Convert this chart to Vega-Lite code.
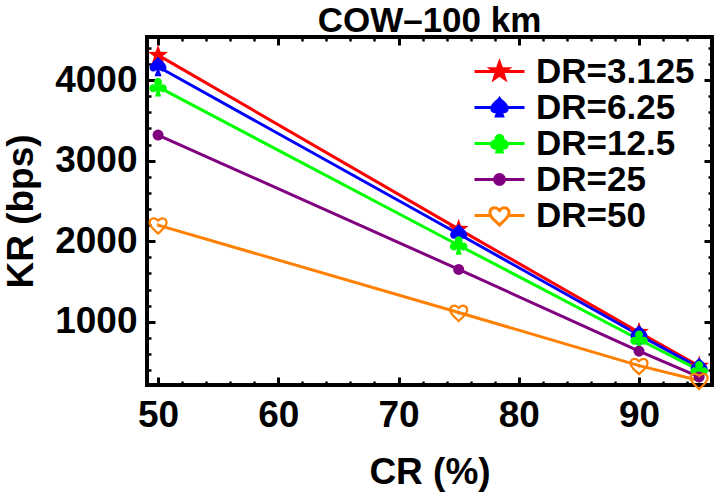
{
  "$schema": "https://vega.github.io/schema/vega-lite/v6.json",
  "width": 565,
  "height": 348,
  "autosize": {"type": "none"},
  "padding": {"left": 147, "top": 37, "right": 5, "bottom": 112},
  "background": "white",
  "title": {"text": "COW–100 km", "font": "Liberation Sans", "fontSize": 35, "fontWeight": "bold", "color": "black", "anchor": "middle", "offset": -3},
  "data": {"values": [
    {"CR": 50, "KR": 4310, "DR": "DR=3.125"},
    {"CR": 75, "KR": 2150, "DR": "DR=3.125"},
    {"CR": 90, "KR": 870, "DR": "DR=3.125"},
    {"CR": 95, "KR": 450, "DR": "DR=3.125"},
    {"CR": 50, "KR": 4165, "DR": "DR=6.25"},
    {"CR": 75, "KR": 2090, "DR": "DR=6.25"},
    {"CR": 90, "KR": 835, "DR": "DR=6.25"},
    {"CR": 95, "KR": 430, "DR": "DR=6.25"},
    {"CR": 50, "KR": 3915, "DR": "DR=12.5"},
    {"CR": 75, "KR": 1950, "DR": "DR=12.5"},
    {"CR": 90, "KR": 780, "DR": "DR=12.5"},
    {"CR": 95, "KR": 400, "DR": "DR=12.5"},
    {"CR": 50, "KR": 3317, "DR": "DR=25"},
    {"CR": 75, "KR": 1650, "DR": "DR=25"},
    {"CR": 90, "KR": 635, "DR": "DR=25"},
    {"CR": 95, "KR": 315, "DR": "DR=25"},
    {"CR": 50, "KR": 2200, "DR": "DR=50"},
    {"CR": 75, "KR": 1115, "DR": "DR=50"},
    {"CR": 90, "KR": 455, "DR": "DR=50"},
    {"CR": 95, "KR": 270, "DR": "DR=50"}
  ]},
  "layer": [
    {
      "mark": {"type": "point", "filled": true, "opacity": 1, "strokeWidth": 3, "size": 1},
      "encoding": {
        "x": {"field": "CR", "type": "quantitative", "scale": {"domain": [49.08, 96.07], "nice": false, "zero": false},
              "axis": {"orient": "top", "values": [50, 60, 70, 80, 90], "labels": false, "title": null, "tickSize": -8, "tickWidth": 3}},
        "y": {"field": "KR", "type": "quantitative", "scale": {"domain": [215, 4535], "nice": false, "zero": false},
              "axis": {"orient": "right", "values": [1000, 2000, 3000, 4000], "labels": false, "title": null, "tickSize": -8, "tickWidth": 3}},
        "shape": {"field": "DR", "type": "nominal",
                  "scale": {"domain": ["DR=3.125", "DR=6.25", "DR=12.5", "DR=25", "DR=50"],
                            "range": [
                              "M-1,0L1,0M0,-0.36L0.0846,-0.1166L0.3424,-0.1112L0.1368,0.0446L0.2117,0.2912L0,0.144L-0.2117,0.2912L-0.1368,0.0446L-0.3424,-0.1112L-0.0846,-0.1166Z",
                              "M-1,0L1,0M0,-0.36C0.09,-0.234 0.306,-0.126 0.306,0.036C0.306,0.18 0.144,0.216 0.0432,0.108L0.126,0.342L-0.126,0.342L-0.0432,0.108C-0.144,0.216 -0.306,0.18 -0.306,0.036C-0.306,-0.126 -0.09,-0.234 0,-0.36Z",
                              "M-1,0L1,0M-0.144,-0.18A0.144,0.144 0 1,0 0.144,-0.18A0.144,0.144 0 1,0 -0.144,-0.18ZM-0.3168,0.0432A0.144,0.144 0 1,0 -0.0288,0.0432A0.144,0.144 0 1,0 -0.3168,0.0432ZM0.0288,0.0432A0.144,0.144 0 1,0 0.3168,0.0432A0.144,0.144 0 1,0 0.0288,0.0432ZM0,-0.108L-0.144,0.072L0.144,0.072ZM-0.0288,0.036L-0.108,0.342L0.108,0.342L0.0288,0.036Z",
                              "M-1,0L1,0M-0.198,0A0.198,0.198 0 1,0 0.198,0A0.198,0.198 0 1,0 -0.198,0Z",
                              "M-1,0L-0.38,0M0.38,0L1,0M0,0.3825C-0.1215,0.2475 -0.3825,0.09 -0.3825,-0.1125C-0.3825,-0.306 -0.1575,-0.3825 0,-0.2025C0.1575,-0.3825 0.3825,-0.306 0.3825,-0.1125C0.3825,0.09 0.1215,0.2475 0,0.3825Z"
                            ]},
                  "legend": {"title": null, "orient": "top-right", "offset": 17}},
        "fill": {"field": "DR", "type": "nominal",
                 "scale": {"domain": ["DR=3.125", "DR=6.25", "DR=12.5", "DR=25", "DR=50"], "range": ["#ff0000", "#0000ff", "#00ff00", "#800080", "transparent"]},
                 "legend": {"title": null, "orient": "top-right", "offset": 17}},
        "stroke": {"field": "DR", "type": "nominal",
                   "scale": {"domain": ["DR=3.125", "DR=6.25", "DR=12.5", "DR=25", "DR=50"], "range": ["#ff0000", "#0000ff", "#00ff00", "#800080", "#ff8000"]},
                   "legend": {"title": null, "orient": "top-right", "offset": 17}}
      }
    },
    {
      "mark": {"type": "line", "strokeWidth": 3},
      "encoding": {
        "x": {"field": "CR", "type": "quantitative", "scale": {"domain": [49.08, 96.07], "nice": false, "zero": false},
              "axis": {"orient": "bottom", "values": [50, 60, 70, 80, 90], "title": "CR (%)", "format": "d", "tickSize": -8, "tickWidth": 3, "labelPadding": 20, "titlePadding": 21, "labelFlush": false}},
        "y": {"field": "KR", "type": "quantitative", "scale": {"domain": [215, 4535], "nice": false, "zero": false},
              "axis": {"orient": "left", "values": [1000, 2000, 3000, 4000], "title": "KR (bps)", "format": "d", "tickSize": -8, "tickWidth": 3, "labelPadding": 18, "titlePadding": 14, "labelFlush": false}},
        "color": {"field": "DR", "type": "nominal",
                  "scale": {"domain": ["DR=3.125", "DR=6.25", "DR=12.5", "DR=25", "DR=50"], "range": ["#ff0000", "#0000ff", "#00ff00", "#800080", "#ff8000"]},
                  "legend": null}
      }
    },
    {
      "transform": [{"filter": "datum.DR == 'DR=3.125'"}],
      "mark": {"type": "point", "filled": true, "opacity": 1, "size": 440,
               "shape": "M0,-1L0.235,-0.324L0.951,-0.309L0.38,0.124L0.588,0.809L0,0.4L-0.588,0.809L-0.38,0.124L-0.951,-0.309L-0.235,-0.324Z"},
      "encoding": {
        "x": {"field": "CR", "type": "quantitative", "axis": null},
        "y": {"field": "KR", "type": "quantitative", "axis": null},
        "color": {"field": "DR", "type": "nominal", "legend": null}
      }
    },
    {
      "transform": [{"filter": "datum.DR == 'DR=6.25'"}],
      "mark": {"type": "point", "filled": true, "opacity": 1, "size": 400,
               "shape": "M0,-1C0.25,-0.65 0.85,-0.35 0.85,0.1C0.85,0.5 0.4,0.6 0.12,0.3L0.35,0.95L-0.35,0.95L-0.12,0.3C-0.4,0.6 -0.85,0.5 -0.85,0.1C-0.85,-0.35 -0.25,-0.65 0,-1Z"},
      "encoding": {
        "x": {"field": "CR", "type": "quantitative", "axis": null},
        "y": {"field": "KR", "type": "quantitative", "axis": null},
        "color": {"field": "DR", "type": "nominal", "legend": null}
      }
    },
    {
      "transform": [{"filter": "datum.DR == 'DR=12.5'"}],
      "mark": {"type": "point", "filled": true, "opacity": 1, "size": 400,
               "shape": "M-0.4,-0.5A0.4,0.4 0 1,0 0.4,-0.5A0.4,0.4 0 1,0 -0.4,-0.5ZM-0.88,0.12A0.4,0.4 0 1,0 -0.08,0.12A0.4,0.4 0 1,0 -0.88,0.12ZM0.08,0.12A0.4,0.4 0 1,0 0.88,0.12A0.4,0.4 0 1,0 0.08,0.12ZM0,-0.3L-0.4,0.2L0.4,0.2ZM-0.08,0.1L-0.3,0.95L0.3,0.95L0.08,0.1Z"},
      "encoding": {
        "x": {"field": "CR", "type": "quantitative", "axis": null},
        "y": {"field": "KR", "type": "quantitative", "axis": null},
        "color": {"field": "DR", "type": "nominal", "legend": null}
      }
    },
    {
      "transform": [{"filter": "datum.DR == 'DR=25'"}],
      "mark": {"type": "point", "filled": true, "opacity": 1, "size": 121, "shape": "circle"},
      "encoding": {
        "x": {"field": "CR", "type": "quantitative", "axis": null},
        "y": {"field": "KR", "type": "quantitative", "axis": null},
        "color": {"field": "DR", "type": "nominal", "legend": null}
      }
    },
    {
      "transform": [{"filter": "datum.DR == 'DR=50'"}],
      "mark": {"type": "point", "filled": false, "opacity": 1, "size": 400, "strokeWidth": 2.2,
               "shape": "M0,0.85C-0.27,0.55 -0.85,0.2 -0.85,-0.25C-0.85,-0.68 -0.35,-0.85 0,-0.45C0.35,-0.85 0.85,-0.68 0.85,-0.25C0.85,0.2 0.27,0.55 0,0.85Z"},
      "encoding": {
        "x": {"field": "CR", "type": "quantitative", "axis": null},
        "y": {"field": "KR", "type": "quantitative", "axis": null},
        "color": {"field": "DR", "type": "nominal", "legend": null}
      }
    },
    {
      "transform": [{"filter": "datum.CR > 1000"}],
      "mark": {"type": "point", "opacity": 1},
      "encoding": {
        "x": {"field": "CR", "type": "quantitative",
              "axis": {"orient": "bottom", "values": [52, 54, 56, 58, 62, 64, 66, 68, 72, 74, 76, 78, 82, 84, 86, 88, 92, 94], "labels": false, "title": null, "tickSize": -4, "tickWidth": 2.5}},
        "y": {"field": "KR", "type": "quantitative",
              "axis": {"orient": "left", "values": [400, 600, 800, 1200, 1400, 1600, 1800, 2200, 2400, 2600, 2800, 3200, 3400, 3600, 3800, 4200, 4400], "labels": false, "title": null, "tickSize": -4, "tickWidth": 2.5}}
      }
    },
    {
      "transform": [{"filter": "datum.CR > 1000"}],
      "mark": {"type": "point", "opacity": 1},
      "encoding": {
        "x": {"field": "CR", "type": "quantitative",
              "axis": {"orient": "top", "values": [52, 54, 56, 58, 62, 64, 66, 68, 72, 74, 76, 78, 82, 84, 86, 88, 92, 94], "labels": false, "title": null, "tickSize": -4, "tickWidth": 2.5}},
        "y": {"field": "KR", "type": "quantitative",
              "axis": {"orient": "right", "values": [400, 600, 800, 1200, 1400, 1600, 1800, 2200, 2400, 2600, 2800, 3200, 3400, 3600, 3800, 4200, 4400], "labels": false, "title": null, "tickSize": -4, "tickWidth": 2.5}}
      }
    }
  ],
  "resolve": {"axis": {"x": "independent", "y": "independent"}},
  "config": {
    "view": {"stroke": "black", "strokeWidth": 4},
    "axis": {"domain": false, "grid": false, "tickColor": "black", "labelColor": "black", "titleColor": "black",
             "labelFont": "Liberation Sans", "labelFontWeight": "bold", "labelFontSize": 37,
             "titleFont": "Liberation Sans", "titleFontWeight": "bold", "titleFontSize": 37},
    "legend": {"padding": 0, "symbolSize": 2500, "symbolStrokeWidth": 3, "clipHeight": 35,
               "labelFont": "Liberation Sans", "labelFontWeight": "bold", "labelFontSize": 35, "labelColor": "black",
               "labelOffset": 10, "rowPadding": 0, "labelLimit": 400}
  }
}
